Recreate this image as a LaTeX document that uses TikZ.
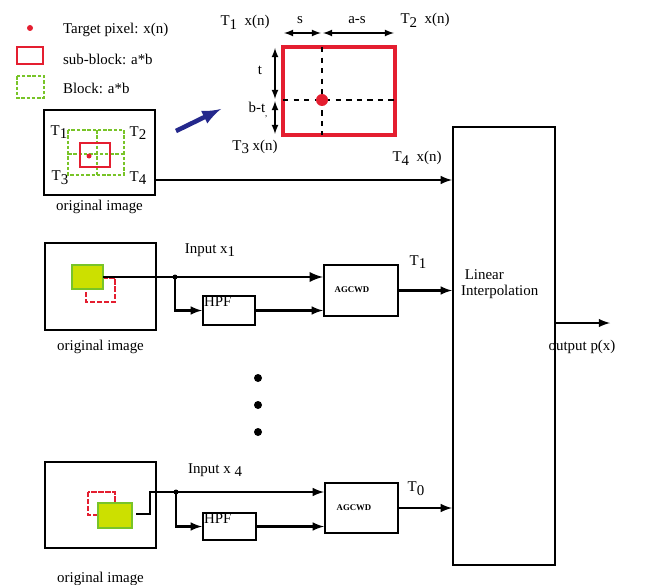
\documentclass[tikz,border=0pt]{standalone}
\usepackage{fontspec}
\setmainfont{Liberation Serif}
\usetikzlibrary{positioning,calc,arrows}

\definecolor{pixred}{RGB}{228,30,48}
\definecolor{blkgreen}{RGB}{120,196,40}
\definecolor{subfill}{RGB}{204,224,0}
\definecolor{navyarrow}{RGB}{36,40,140}

\newcommand{\Tlab}[1]{T\raisebox{-.55ex}{#1}}

\tikzset{
  imgbox/.style={draw,very thick,minimum width=2.22cm,inner sep=0pt},
  procbox/.style={draw,very thick,inner sep=0pt},
  lbl/.style={font=\fontsize{8.5}{9.5}\selectfont,inner sep=1pt},
  flow/.style={very thick,->,>=latex},
  redblk/.style={draw=pixred,line width=1.3pt},
  greenblk/.style={draw=blkgreen,line width=1pt,dash pattern=on 2pt off 1pt},
}

\begin{document}
\begin{tikzpicture}[x=0.02cm,y=-0.02cm]
   \useasboundingbox (0,0) rectangle (651,584);

   % legend
   \fill[pixred] (30,28) circle (3);
   \node[lbl,anchor=west] at (61,30) (leg1) {Target pixel: x(n)};
   \draw[redblk] (17,47) rectangle (43,64);
   \node[lbl,anchor=west] at (61,59) (leg2) {sub-block: a*b};
   \draw[greenblk] (17,76) rectangle (44,98);
   \node[lbl,anchor=west] at (61,88) (leg3) {Block: a*b};

   % top original image
   \node[imgbox,minimum height=1.7cm] at (99.5,152.5) (img0) {};
   \draw[greenblk] (68,130) rectangle (124,175);
   \draw[greenblk] (97,130) -- (97,175);
   \draw[greenblk] (68,154) -- (124,154);
   \draw[redblk] (80,143) rectangle (110,167);
   \fill[pixred] (89,156) circle (2.5);
   \node[lbl] at (59,132) (t1a) {\Tlab{1}};
   \node[lbl] at (138,133) (t2a) {\Tlab{2}};
   \node[lbl] at (60,178) (t3a) {\Tlab{3}};
   \node[lbl] at (138,178) (t4a) {\Tlab{4}};
   \node[lbl,below=1pt of img0] (cap0) {original image};

   \draw[navyarrow,line width=2.6pt,-latex] (176,131) -- (221,109);

   % zoomed sub-block
   \draw[pixred,line width=1.8pt] (283,47) rectangle (395,135);
   \draw[very thick,dashed] (322,47) -- (322,135);
   \draw[very thick,dashed] (283,100) -- (395,100);
   \fill[pixred] (322,100) circle (6);
   \draw[thick,<->,>=latex] (284,33) -- (321,33);
   \draw[thick,<->,>=latex] (323,33) -- (394,33);
   \draw[thick,<->,>=latex] (275,48) -- (275,99);
   \draw[thick,<->,>=latex] (275,101) -- (275,134);
   \node[lbl] at (300,20) (slab) {s};
   \node[lbl] at (357,20) (aslab) {a-s};
   \node[lbl] at (260,70) (tlab) {t};
   \node[lbl] at (258,110) (btlab) {b-t\raisebox{-.5ex}{\tiny ,}};
   \node[lbl] at (245,22) (zt1) {\Tlab{1}\ \ x(n)};
   \node[lbl] at (425,20) (zt2) {\Tlab{2}\ \ x(n)};
   \node[lbl] at (255,147) (zt3) {\Tlab{3}\ x(n)};
   \node[lbl] at (417,158) (zt4) {\Tlab{4}\ \ x(n)};

   % linear interpolation
   \node[procbox,minimum width=2.04cm,minimum height=8.76cm] at (504,346) (li) {};
   \node[lbl,align=left,anchor=west] at (459,284) (litext) {\ Linear\\Interpolation};

   % row 1
   \node[imgbox,minimum height=1.74cm] at (100.5,286.5) (img1) {};
   \draw[pixred,line width=1pt,dash pattern=on 3pt off 1pt] (86,278) rectangle (115,302);
   \draw[blkgreen,fill=subfill,line width=1pt] (72,265) rectangle (103,289);
   \node[lbl,below=4pt of img1] (cap1) {original image};
   \node[procbox,minimum width=1.04cm,minimum height=0.58cm] at (229,310.5) (hpf1) {};
   \node[lbl,anchor=north west] at (hpf1.north west) {HPF};
   \node[procbox,minimum width=1.48cm,minimum height=1.02cm] at (361,290.5) (agc1) {};
   \node[font=\bfseries\fontsize{5}{6}\selectfont] at (352,290) (agc1txt) {AGCWD};
   \coordinate (src1) at (103,277);
   \coordinate (j1) at (175,277);
   \fill (j1) circle (2.5);
   \draw[line width=1.6pt,->,>=latex] (src1) -- (agc1.west |- src1);
   \draw[flow] (j1) |- (hpf1.west);
   \draw[flow] (hpf1.east) -- (agc1.west |- hpf1.east);
   \draw[flow] (agc1.east) -- (li.west |- agc1.east);
   \node[lbl] at (210,250) (in1) {Input x\raisebox{-.55ex}{1}};
   \node[lbl] at (418,262) (out1) {\Tlab{1}};

   % dots
   \foreach \yy in {378,405,432}
     \fill (258,\yy) circle (4);

   % row 4
   \node[imgbox,minimum height=1.72cm] at (100.5,505) (img4) {};
   \draw[pixred,line width=1pt,dash pattern=on 3pt off 1pt] (88,492) rectangle (115,515);
   \draw[blkgreen,fill=subfill,line width=1pt] (98,503) rectangle (132,528);
   \node[lbl,below=12pt of img4] (cap4) {original image};
   \node[procbox,minimum width=1.06cm,minimum height=0.54cm] at (229.5,526.5) (hpf4) {};
   \node[lbl,anchor=north west] at (hpf4.north west) {HPF};
   \node[procbox,minimum width=1.46cm,minimum height=1.0cm] at (361.5,508) (agc4) {};
   \node[font=\bfseries\fontsize{5}{6}\selectfont] at (354,508) (agc4txt) {AGCWD};
   \coordinate (src4) at (136,514);
   \coordinate (j4) at (176,492);
   \fill (j4) circle (2.5);
   \draw[very thick,->,>=latex] (src4) -- (150,514) |- (agc4.west |- j4);
   \draw[flow] (j4) |- (hpf4.west);
   \draw[flow] (hpf4.east) -- (agc4.west |- hpf4.east);
   \draw[flow] (agc4.east) -- (li.west |- agc4.east);
   \node[lbl] at (215,470) (in4) {Input x\raisebox{-.55ex}{ 4}};
   \node[lbl] at (416,489) (out4) {T\raisebox{-.55ex}{0}};

   % top T4 input and output
   \draw[flow] (img0.east |- 0,180) -- (li.west |- 0,180);
   \coordinate (outp) at (610,323);
   \draw[very thick,->,>=latex] (li.east |- outp) -- (outp);
   \node[lbl] at (582,347) (outlab) {output p(x)};
\end{tikzpicture}
\end{document}
